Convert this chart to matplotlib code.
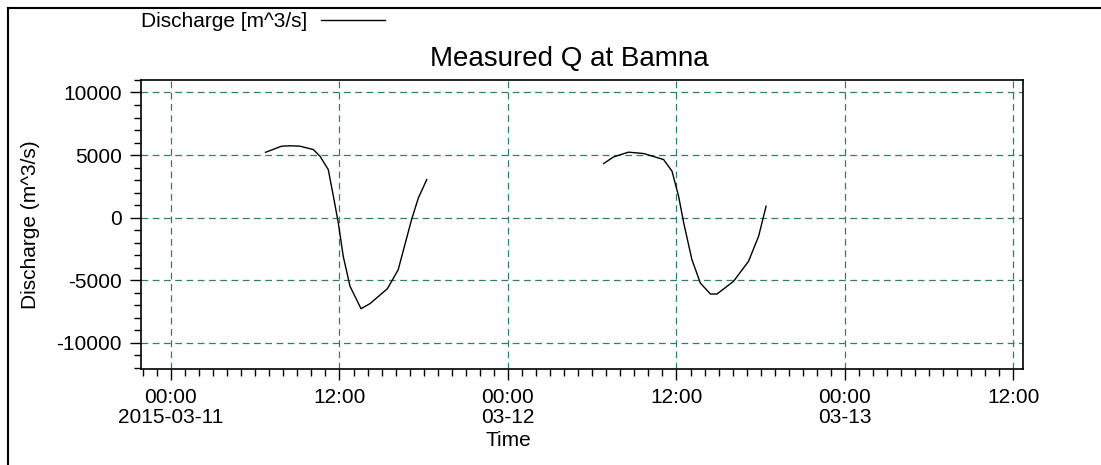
import matplotlib
matplotlib.use("Agg")
import matplotlib.pyplot as plt
import matplotlib.dates as mdates
from matplotlib.lines import Line2D
import pandas as pd

# measured discharge, two tide cycles
day1_times = ["2015-03-11 06:44", "2015-03-11 07:53", "2015-03-11 08:30", "2015-03-11 09:11",
              "2015-03-11 10:08", "2015-03-11 10:37", "2015-03-11 11:12", "2015-03-11 11:34",
              "2015-03-11 11:55", "2015-03-11 12:16", "2015-03-11 12:45", "2015-03-11 13:32",
              "2015-03-11 14:10", "2015-03-11 15:25", "2015-03-11 16:11", "2015-03-11 17:08",
              "2015-03-11 17:37", "2015-03-11 18:13"]
day1_q = [5220, 5710, 5740, 5710, 5440, 4900, 3840, 1700, -430, -3090, -5490, -7280,
          -6880, -5680, -4160, -160, 1570, 3040]

day2_times = ["2015-03-12 06:49", "2015-03-12 07:31", "2015-03-12 08:35", "2015-03-12 09:40",
              "2015-03-12 11:05", "2015-03-12 11:41", "2015-03-12 12:09", "2015-03-12 12:31",
              "2015-03-12 13:06", "2015-03-12 13:42", "2015-03-12 14:25", "2015-03-12 14:53",
              "2015-03-12 16:04", "2015-03-12 17:08", "2015-03-12 17:51", "2015-03-12 18:23"]
day2_q = [4320, 4850, 5230, 5120, 4640, 3710, 1710, -430, -3360, -5230, -6110, -6110,
          -5090, -3490, -1490, 910]

tick_times = ["2015-03-11 00:00", "2015-03-11 12:00", "2015-03-12 00:00",
              "2015-03-12 12:00", "2015-03-13 00:00", "2015-03-13 12:00"]
tick_labels = ["00:00\n2015-03-11", "12:00", "00:00\n03-12", "12:00", "00:00\n03-13", "12:00"]
y_ticks = [-10000, -5000, 0, 5000, 10000]

plt.rcParams["font.family"] = ["Liberation Sans", "DejaVu Sans"]
plt.rcParams["axes.unicode_minus"] = False
grid_col = "#2f806a"

fig = plt.figure(figsize=(11.01, 4.65), dpi=100)
ax = fig.add_axes([0.1281, 0.2065, 0.8011, 0.6215])

ax.plot(pd.to_datetime(day1_times), day1_q, color="black", lw=1.0, label="Discharge [m^3/s]")
ax.plot(pd.to_datetime(day2_times), day2_q, color="black", lw=1.0)

ax.set_xlim(pd.Timestamp("2015-03-10 21:52"), pd.Timestamp("2015-03-13 12:41"))
ax.set_ylim(-12100, 11000)

ticks = pd.to_datetime(tick_times)
ax.set_xticks(ticks)
ax.set_xticklabels(tick_labels, linespacing=1.05)
ax.xaxis.set_minor_locator(mdates.HourLocator())
ax.set_yticks(y_ticks)
ax.yaxis.set_minor_locator(matplotlib.ticker.MultipleLocator(1000))

ax.tick_params(which="major", length=8, width=1, labelsize=15, pad=6, color="black")
ax.tick_params(which="minor", length=5, width=1, color="black")
for s in ax.spines.values():
    s.set_linewidth(1.2)

ax.grid(True, which="major", color=grid_col, linestyle=(0, (5.4, 3.6)), linewidth=0.9)

ax.set_title("Measured Q at Bamna", fontsize=20, x=0.485, y=1.05, pad=0)
ax.set_xlabel("Time", fontsize=15)
ax.xaxis.set_label_coords(0.416, -0.213)
ax.set_ylabel("Discharge (m^3/s)", fontsize=15)
ax.yaxis.set_label_coords(-0.115, 0.5)

fig.legend(loc="center left", bbox_to_anchor=(0.128, 0.953), frameon=False,
           markerfirst=False, fontsize=15, borderpad=0, borderaxespad=0,
           handlelength=3.1, handletextpad=0.65)

# outer frame (only top and left edges visible)
fig.add_artist(Line2D([0.0073, 0.0073], [0.983, 0.0], color="black", lw=1.5))
fig.add_artist(Line2D([0.0073, 1.0], [0.983, 0.983], color="black", lw=1.5))

fig.savefig("out.png", dpi=100)
